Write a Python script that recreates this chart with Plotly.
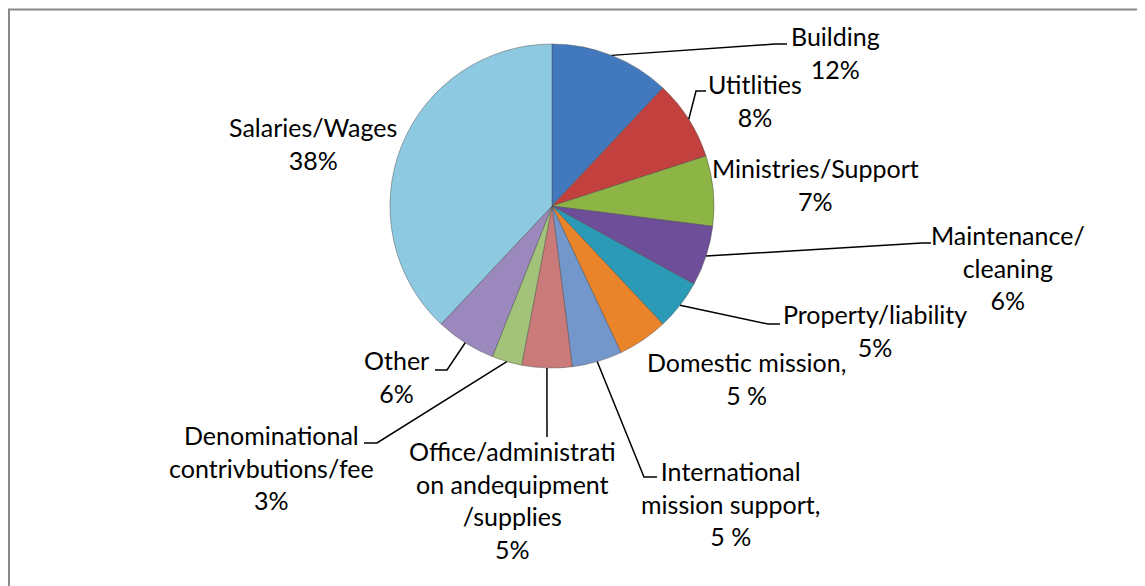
import math
import plotly.graph_objects as go

# ---- data ----
categories = ["Building", "Utitlities", "Ministries/Support", "Maintenance/cleaning",
              "Property/liability", "Domestic mission", "International mission support",
              "Office/administration andequipment/supplies",
              "Denominational contrivbutions/fee", "Other", "Salaries/Wages"]
values = [12, 8, 7, 6, 5, 5, 5, 5, 3, 6, 38]
label_texts = ["Building<br>12%", "Utitlities<br>8%", "Ministries/Support<br>7%",
               "Maintenance/<br>cleaning<br>6%", "Property/liability<br>5%",
               "Domestic mission,<br>5 %", "International<br>mission support,<br>5 %",
               "Office/administrati<br>on andequipment<br>/supplies<br>5%",
               "Denominational<br>contrivbutions/fee<br>3%", "Other<br>6%",
               "Salaries/Wages<br>38%"]
colors = ["#4279BE", "#C2413F", "#8CB545", "#6E4E98", "#2B9AB7", "#E9842B",
          "#7397CB", "#CB7A7A", "#A3C37B", "#9B89BD", "#8DCAE2"]

# ---- layout (pixels, page coordinates) ----
W, H = 1145, 586
OFF = 8  # page body margin
CX, CY, R = 552, 206, 162
# label text centres
label_pos = [(835, 52), (755, 100), (815, 185), (1008, 267), (875, 330),
             (746, 378), (730, 503), (513, 500), (271, 467), (396, 376), (313, 143)]
# leader lines: (elbow x, elbow y, end x) or None
leaders = [(775, 44, 787), (696, 91, 706), None, (922, 243, 931), (768, 324, 780),
           None, (644, 477, 657), (547, 437, 547), (377, 443, 364), (447, 370, 435), None]


def px(x):
    return (x - OFF) / W


def py(y):
    return 1 - (y - OFF) / H


fig = go.Figure()
fig.add_trace(go.Pie(
    values=values, labels=categories, sort=False, direction="clockwise", rotation=0,
    textinfo="none", hoverinfo="label+percent", showlegend=False,
    marker=dict(colors=colors, line=dict(color="rgba(70,70,70,0.45)", width=1)),
    domain=dict(x=[px(CX - R), px(CX + R)], y=[py(CY + R), py(CY - R)]),
))

shapes = [dict(type="rect", xref="paper", yref="paper", x0=px(9), x1=px(W + 20),
               y0=py(H + 20), y1=py(9.5), line=dict(color="#888888", width=2),
               fillcolor="rgba(0,0,0,0)")]

total = sum(values)
cum = 0
for v, ld in zip(values, leaders):
    mid = (cum + v / 2) / total * 2 * math.pi
    cum += v
    if ld is None:
        continue
    sx = CX + R * math.sin(mid)
    sy = CY - R * math.cos(mid)
    ex, ey, endx = ld
    path = f"M {px(sx)},{py(sy)} L {px(ex)},{py(ey)} L {px(endx)},{py(ey)}"
    shapes.append(dict(type="path", xref="paper", yref="paper", path=path,
                       line=dict(color="black", width=1.5)))

annotations = []
for t, (lx, ly) in zip(label_texts, label_pos):
    annotations.append(dict(text=t, x=px(lx), y=py(ly), xref="paper", yref="paper",
                            xanchor="center", yanchor="middle", showarrow=False,
                            align="center", font=dict(family="Lato", size=25, color="black")))

fig.update_layout(width=W, height=H, margin=dict(l=0, r=0, t=0, b=0),
                  paper_bgcolor="white", plot_bgcolor="white",
                  shapes=shapes, annotations=annotations)
fig.write_html("out.html")
